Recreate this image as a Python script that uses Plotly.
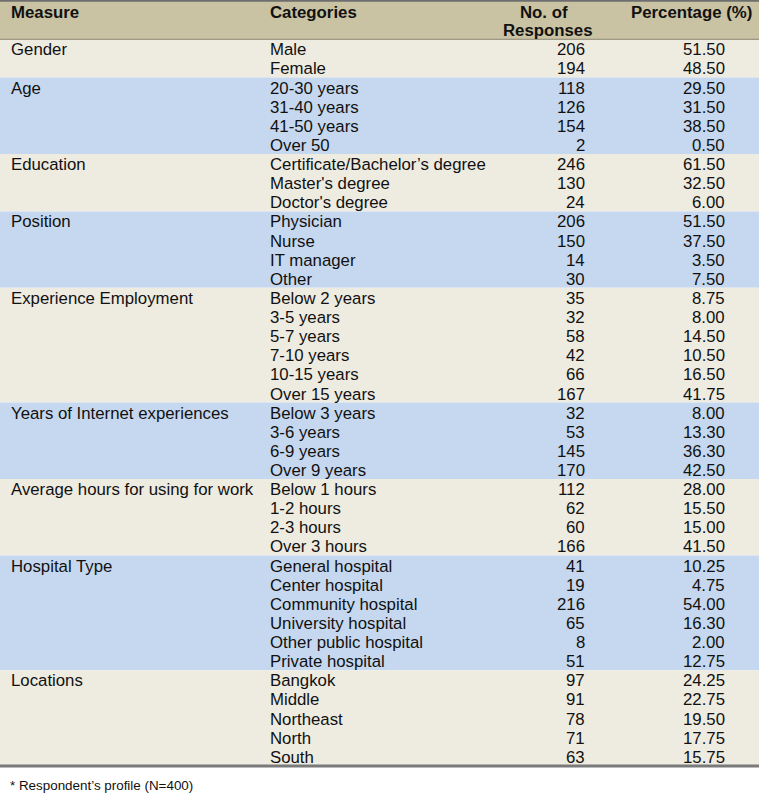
import plotly.graph_objects as go

# ---- data ----
measures = ["Gender", "Age", "Education", "Position", "Experience Employment",
            "Years of Internet experiences", "Average hours for using for work",
            "Hospital Type", "Locations"]
categories = [
    ["Male", "Female"],
    ["20-30 years", "31-40 years", "41-50 years", "Over 50"],
    ["Certificate/Bachelor\u2019s degree", "Master's degree", "Doctor's degree"],
    ["Physician", "Nurse", "IT manager", "Other"],
    ["Below 2 years", "3-5 years", "5-7 years", "7-10 years", "10-15 years", "Over 15 years"],
    ["Below 3 years", "3-6 years", "6-9 years", "Over 9 years"],
    ["Below 1 hours", "1-2 hours", "2-3 hours", "Over 3 hours"],
    ["General hospital", "Center hospital", "Community hospital", "University hospital",
     "Other public hospital", "Private hospital"],
    ["Bangkok", "Middle", "Northeast", "North", "South"],
]
responses = [
    [206, 194],
    [118, 126, 154, 2],
    [246, 130, 24],
    [206, 150, 14, 30],
    [35, 32, 58, 42, 66, 167],
    [32, 53, 145, 170],
    [112, 62, 60, 166],
    [41, 19, 216, 65, 8, 51],
    [97, 91, 78, 71, 63],
]
percentages = [
    [51.50, 48.50],
    [29.50, 31.50, 38.50, 0.50],
    [61.50, 32.50, 6.00],
    [51.50, 37.50, 3.50, 7.50],
    [8.75, 8.00, 14.50, 10.50, 16.50, 41.75],
    [8.00, 13.30, 36.30, 42.50],
    [28.00, 15.50, 15.00, 41.50],
    [10.25, 4.75, 54.00, 16.30, 2.00, 12.75],
    [24.25, 22.75, 19.50, 17.75, 15.75],
]
header_labels = ["Measure", "Categories", "No. of", "Responses", "Percentage (%)"]
footnote = "* Respondent\u2019s profile (N=400)"

# ---- style / layout ----
W, H = 759, 795
FONT = "Liberation Sans, Arial, sans-serif"
FS = 16.8
HEADER_BG = "#C9C2A3"
ROW_BG = ["#EEEBE1", "#C6D8EF"]
TEXT = "#111111"
header_top, header_bottom = 0, 39.3
line_h = 19.12
x_measure, x_cat, x_resp, x_pct = 9, 268, 587, 727

shapes = []
annotations = []

shapes.append(dict(type="rect", x0=0, x1=W, y0=header_top, y1=header_bottom,
                   fillcolor=HEADER_BG, line=dict(width=0), layer="below"))

def ann(x, y, text, anchor, bold=False, size=FS):
    annotations.append(dict(x=x, y=y, xref="x", yref="y", text=f"<b>{text}</b>" if bold else text,
                            showarrow=False, xanchor=anchor, yanchor="middle",
                            font=dict(family=FONT, size=size, color=TEXT)))

ann(x_measure, 12, header_labels[0], "left", True)
ann(x_cat, 12, header_labels[1], "left", True)
ann(544, 12, header_labels[2], "center", True)
ann(548, 30, header_labels[3], "center", True)
ann(629, 12, header_labels[4], "left", True)

top = header_bottom
for g, m in enumerate(measures):
    n = len(categories[g])
    bottom = top + n * line_h
    shapes.append(dict(type="rect", x0=0, x1=W, y0=top, y1=bottom,
                       fillcolor=ROW_BG[g % 2], line=dict(width=0), layer="below"))
    ann(x_measure, top + 0.5 * line_h + 1, m, "left")
    for i in range(n):
        yc = top + (i + 0.5) * line_h + 1
        ann(x_cat, yc, categories[g][i], "left")
        ann(x_resp, yc, str(responses[g][i]), "right")
        ann(x_pct, yc, f"{percentages[g][i]:.2f}", "right")
    top = bottom

# borders
shapes.append(dict(type="line", x0=0, x1=W, y0=0.8, y1=0.8, line=dict(color="#6E6E6E", width=2)))
shapes.append(dict(type="line", x0=0, x1=W, y0=header_bottom, y1=header_bottom,
                   line=dict(color="#8A8470", width=1)))
shapes.append(dict(type="line", x0=0, x1=W, y0=top + 0.2, y1=top + 0.2, line=dict(color="#7A7A7A", width=3)))

ann(8, 785, footnote, "left", size=13.4)

fig = go.Figure()
fig.update_layout(
    width=W, height=H, margin=dict(l=0, r=0, t=0, b=0),
    paper_bgcolor="white", plot_bgcolor="white",
    xaxis=dict(range=[0, W], visible=False, fixedrange=True),
    yaxis=dict(range=[H, 0], visible=False, fixedrange=True),
    shapes=shapes, annotations=annotations, showlegend=False,
)
fig.write_html("out.html", config={"displayModeBar": False},
               post_script="document.body.style.margin='0';document.body.style.overflow='hidden';")
